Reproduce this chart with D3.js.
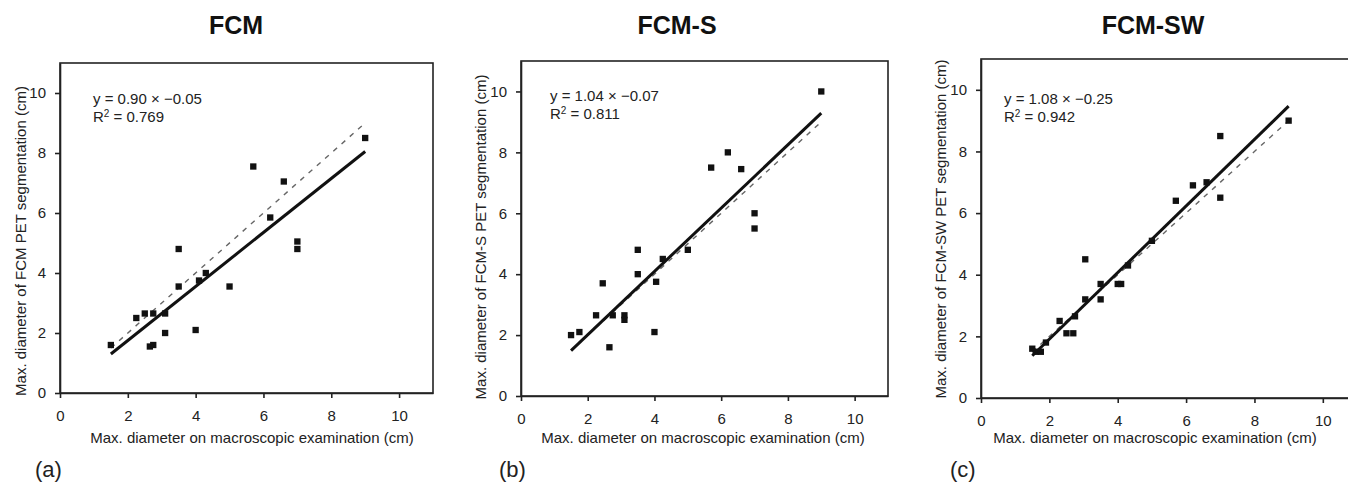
<!DOCTYPE html>
<html>
<head>
<meta charset="utf-8">
<script src="https://cdn.jsdelivr.net/npm/d3@7"></script>
<style>
  body { margin: 0; background: #fff; }
  text { font-family: "Liberation Sans", Arial, sans-serif; fill: #222; }
</style>
</head>
<body>
<div id="chart"></div>
<script>
// macroscopic diameter (x) vs PET segmentation diameter (y), cm
const fcmX = [1.5, 2.25, 2.5, 2.75, 2.65, 2.75, 3.1, 3.1, 3.5, 3.5, 4.0, 4.1, 4.3, 5.0, 5.7, 6.2, 6.6, 7.0, 7.0, 9.0];
const fcmY = [1.6, 2.5, 2.65, 2.65, 1.55, 1.6, 2.65, 2.0, 4.8, 3.55, 2.1, 3.75, 4.0, 3.55, 7.55, 5.85, 7.05, 5.05, 4.8, 8.5];

const fcmSX = [1.5, 1.75, 2.25, 2.45, 2.65, 2.75, 3.1, 3.1, 3.5, 3.5, 4.0, 4.05, 4.25, 5.0, 5.7, 6.2, 6.6, 7.0, 7.0, 9.0];
const fcmSY = [2.0, 2.1, 2.65, 3.7, 1.6, 2.65, 2.65, 2.5, 4.8, 4.0, 2.1, 3.75, 4.5, 4.8, 7.5, 8.0, 7.45, 6.0, 5.5, 10.0];

const fcmSWX = [1.5, 1.6, 1.75, 1.9, 2.3, 2.5, 2.7, 2.75, 3.05, 3.05, 3.5, 3.5, 4.0, 4.1, 4.3, 5.0, 5.7, 6.2, 6.6, 7.0, 7.0, 9.0];
const fcmSWY = [1.6, 1.5, 1.5, 1.8, 2.5, 2.1, 2.1, 2.65, 4.5, 3.2, 3.2, 3.7, 3.7, 3.7, 4.3, 5.1, 6.4, 6.9, 7.0, 8.5, 6.5, 9.0];

const titles = ["FCM", "FCM-S", "FCM-SW"];
const panelTags = ["(a)", "(b)", "(c)"];
const slopes = [0.90, 1.04, 1.08];
const intercepts = [-0.05, -0.07, -0.25];
const r2 = ["0.769", "0.811", "0.942"];
const tickVals = [0, 2, 4, 6, 8, 10];
const xLabel = "Max. diameter on macroscopic examination (cm)";

const series = [[fcmX, fcmY], [fcmSX, fcmSY], [fcmSWX, fcmSWY]];

// layout of each panel (pixels)
const layout = [
  { left: 60, right: 433, top: 63, bottom: 393, titleX: 236, xLabX: 252, yLabX: 20, yLabY: 241, eqX: 93, eqY: 104, tagX: 35 },
  { left: 521, right: 888, top: 61, bottom: 396, titleX: 677, xLabX: 703, yLabX: 480, yLabY: 237, eqX: 550, eqY: 101, tagX: 499 },
  { left: 981, right: 1357, top: 59, bottom: 398, titleX: 1153, xLabX: 1155, yLabX: 940, yLabY: 229, eqX: 1004, eqY: 104, tagX: 950 }
];

const svg = d3.select("#chart").append("svg")
  .attr("width", 1348)
  .attr("height", 483);

titles.forEach((title, i) => {
  const L = layout[i];
  const xs = series[i][0], ys = series[i][1];

  const x = d3.scaleLinear().domain([0, 11]).range([L.left, L.right]);
  const y = d3.scaleLinear().domain([0, 11]).range([L.bottom, L.top]);

  const g = svg.append("g");

  g.append("text")
    .attr("x", L.titleX).attr("y", 34)
    .attr("text-anchor", "middle")
    .style("font-size", "25px").style("font-weight", "bold").style("fill", "#111")
    .text(title);

  // frame
  g.append("rect")
    .attr("x", L.left).attr("y", L.top)
    .attr("width", L.right - L.left).attr("height", L.bottom - L.top)
    .attr("fill", "none").attr("stroke", "#222").attr("stroke-width", 1.6);

  const xAxis = g.append("g")
    .attr("transform", `translate(0,${L.bottom})`)
    .call(d3.axisBottom(x).tickValues(tickVals).tickSize(5).tickSizeOuter(0).tickPadding(12));
  const yAxis = g.append("g")
    .attr("transform", `translate(${L.left},0)`)
    .call(d3.axisLeft(y).tickValues(tickVals).tickSize(5).tickSizeOuter(0).tickPadding(9));

  [xAxis, yAxis].forEach(a => {
    a.select(".domain").attr("stroke", "#222").attr("stroke-width", 1.6);
    a.selectAll(".tick line").attr("stroke", "#222").attr("stroke-width", 1.6);
    a.selectAll(".tick text")
      .style("font-size", "15px")
      .style("font-family", "'Liberation Sans', Arial, sans-serif")
      .attr("fill", "#222");
  });

  // identity line (dashed) and regression line
  const ext = d3.extent(xs);
  g.append("line")
    .attr("x1", x(ext[0])).attr("y1", y(ext[0]))
    .attr("x2", x(ext[1])).attr("y2", y(ext[1]))
    .attr("stroke", "#666").attr("stroke-width", 1.4)
    .attr("stroke-dasharray", "5,6");

  g.append("line")
    .attr("x1", x(ext[0])).attr("y1", y(slopes[i] * ext[0] + intercepts[i]))
    .attr("x2", x(ext[1])).attr("y2", y(slopes[i] * ext[1] + intercepts[i]))
    .attr("stroke", "#111").attr("stroke-width", 3);

  const sym = d3.symbol().type(d3.symbolSquare).size(40);
  g.selectAll("path.pt")
    .data(xs.map((v, k) => [v, ys[k]]))
    .join("path")
    .attr("class", "pt")
    .attr("d", sym)
    .attr("transform", d => `translate(${x(d[0])},${y(d[1])})`)
    .attr("fill", "#111");

  // equation
  const eq = g.append("text")
    .attr("x", L.eqX).attr("y", L.eqY)
    .style("font-size", "15px");
  eq.append("tspan").text(`y = ${slopes[i].toFixed(2)} × −${Math.abs(intercepts[i]).toFixed(2)}`);
  const r2t = g.append("text")
    .attr("x", L.eqX).attr("y", L.eqY + 18)
    .style("font-size", "15px");
  r2t.append("tspan").text("R");
  r2t.append("tspan").attr("dy", -5).style("font-size", "10px").text("2");
  r2t.append("tspan").attr("dy", 5).text(` = ${r2[i]}`);

  // axis labels
  g.append("text")
    .attr("x", L.xLabX).attr("y", 443)
    .attr("text-anchor", "middle")
    .style("font-size", "15px")
    .text(xLabel);

  g.append("text")
    .attr("transform", `translate(${L.yLabX},${L.yLabY}) rotate(-90)`)
    .attr("text-anchor", "middle")
    .attr("dominant-baseline", "central")
    .style("font-size", "15px")
    .text(`Max. diameter of ${title} PET segmentation (cm)`);

  g.append("text")
    .attr("x", L.tagX).attr("y", 477)
    .style("font-size", "22px")
    .style("font-weight", "300")
    .text(panelTags[i]);
});
</script>
</body>
</html>
